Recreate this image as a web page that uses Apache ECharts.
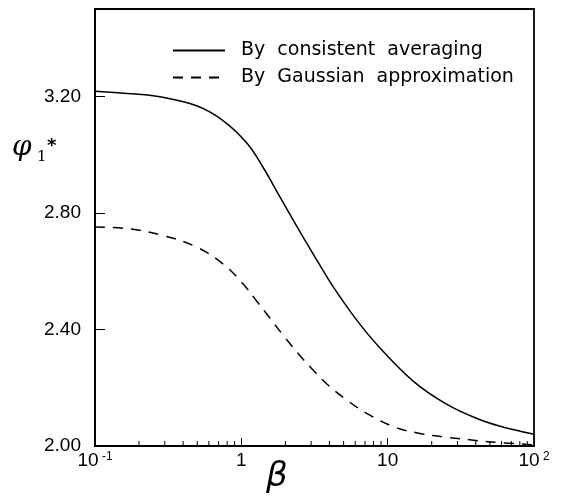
<!DOCTYPE html>
<html><head><meta charset="utf-8">
<script src="https://cdn.jsdelivr.net/npm/echarts@6/dist/echarts.min.js"></script>
<style>html,body{margin:0;padding:0;background:#fff}#c{width:562px;height:501px}</style>
</head><body><div id="c"></div>
<script>
// Data
const betaSolid = [0.1, 0.19, 0.29, 0.5, 0.75, 1.09, 1.41, 1.84, 2.4, 2.8, 3.4, 4.2, 6.15, 8.87, 15, 25.4, 42.9, 58.6, 100];
const phiSolid  = [3.218, 3.208, 3.197, 3.167, 3.117, 3.040, 2.956, 2.854, 2.753, 2.696, 2.625, 2.550, 2.432, 2.336, 2.222, 2.143, 2.090, 2.068, 2.040];
const betaDashed = [0.1, 0.173, 0.293, 0.495, 0.753, 1.03, 1.24, 1.99, 2.52, 3.1, 3.84, 5.25, 7.19, 10.9, 16.6, 25.4, 38.5, 50, 100];
const phiDashed  = [2.752, 2.745, 2.722, 2.683, 2.624, 2.556, 2.505, 2.372, 2.310, 2.260, 2.213, 2.158, 2.112, 2.067, 2.043, 2.030, 2.020, 2.014, 2.004];
const seriesNames = ['By  consistent  averaging', 'By  Gaussian  approximation'];
const minorTickValues = [0.2,0.3,0.4,0.5,0.6,0.7,0.8,0.9,2,3,4,5,6,7,8,9,20,30,40,50,60,70,80,90];
const xTickLabels = {'-1': '{m|10}{s| -1}', '0': '{m|1}', '1': '{m|10}', '2': '{m|10}{s| 2}'};
const yTickValues = [2.0, 2.4, 2.8, 3.2];

const TICKFONT = 'Liberation Sans';
const LEGFONT = 'DejaVu Sans';
const chart = echarts.init(document.getElementById('c'));
chart.setOption({
  animation: false,
  backgroundColor: '#fff',
  grid: {left: 95, right: 28, top: 9, bottom: 55, show: true, borderColor: '#000', borderWidth: 1.8, backgroundColor: 'transparent'},
  legend: {
    orient: 'vertical', left: 167, top: 36, itemWidth: 52, itemHeight: 14, itemGap: 8,
    data: seriesNames,
    itemStyle: {opacity: 0},
    textStyle: {fontFamily: LEGFONT, fontSize: 19, color: '#000', padding: [0, 0, 0, 11]}
  },
  xAxis: {
    type: 'log', logBase: 10, min: 0.1, max: 100,
    axisLine: {show: true, lineStyle: {color: '#000', width: 1.8}},
    axisTick: {show: true, inside: true, length: 8, lineStyle: {color: '#000', width: 1}},
    splitLine: {show: false},
    axisLabel: {
      margin: 5, color: '#000',
      formatter: v => xTickLabels[String(Math.round(Math.log10(v)))] || '',
      rich: {
        m: {fontFamily: TICKFONT, fontSize: 19, color: '#000', lineHeight: 20},
        s: {fontFamily: TICKFONT, fontSize: 12, color: '#000', verticalAlign: 'top', lineHeight: 20, padding: [0, 0, 12, 0]}
      }
    }
  },
  yAxis: {
    type: 'value', min: 2.0, max: 3.5, interval: 0.4,
    axisLine: {show: true, lineStyle: {color: '#000', width: 1.8}},
    axisTick: {show: true, inside: true, length: 10, lineStyle: {color: '#000', width: 1}},
    splitLine: {show: false},
    axisLabel: {
      margin: 14, color: '#000', fontFamily: TICKFONT, fontSize: 19,
      formatter: v => yTickValues.some(t => Math.abs(t - v) < 1e-6) ? v.toFixed(2) : ''
    }
  },
  series: [
    {
      name: seriesNames[0], type: 'line', symbol: 'none', smooth: 0.4,
      lineStyle: {color: '#000', width: 1.5, type: 'solid'}, itemStyle: {color: '#000'},
      data: betaSolid.map((b, i) => [b, phiSolid[i]])
    },
    {
      name: seriesNames[1], type: 'line', symbol: 'none', smooth: 0.4,
      lineStyle: {color: '#000', width: 1.5, type: [10, 8]}, itemStyle: {color: '#000'},
      data: betaDashed.map((b, i) => [b, phiDashed[i]])
    },
    {
      name: 'minorTicks', type: 'custom', silent: true, z: 1,
      data: minorTickValues.map(v => [v, 2.0]),
      renderItem: (params, api) => {
        const p = api.coord([api.value(0), api.value(1)]);
        return {type: 'line', shape: {x1: p[0], y1: p[1], x2: p[0], y2: p[1] - 5}, style: {stroke: '#000', lineWidth: 1}};
      }
    }
  ],
  graphic: [
    {type: 'text', left: 266, top: 460, style: {text: 'β', font: 'italic 34px "DejaVu Sans"', fill: '#000'}},
    {type: 'text', left: 12, top: 134, style: {text: 'φ', font: 'italic 28px "DejaVu Serif"', fill: '#000'}},
    {type: 'text', left: 37, top: 150, style: {text: '1', font: '15px "DejaVu Serif"', fill: '#000'}},
    {type: 'text', left: 47, top: 137, style: {text: '*', font: 'bold 18px "DejaVu Sans"', fill: '#000'}}
  ]
});
</script></body></html>
